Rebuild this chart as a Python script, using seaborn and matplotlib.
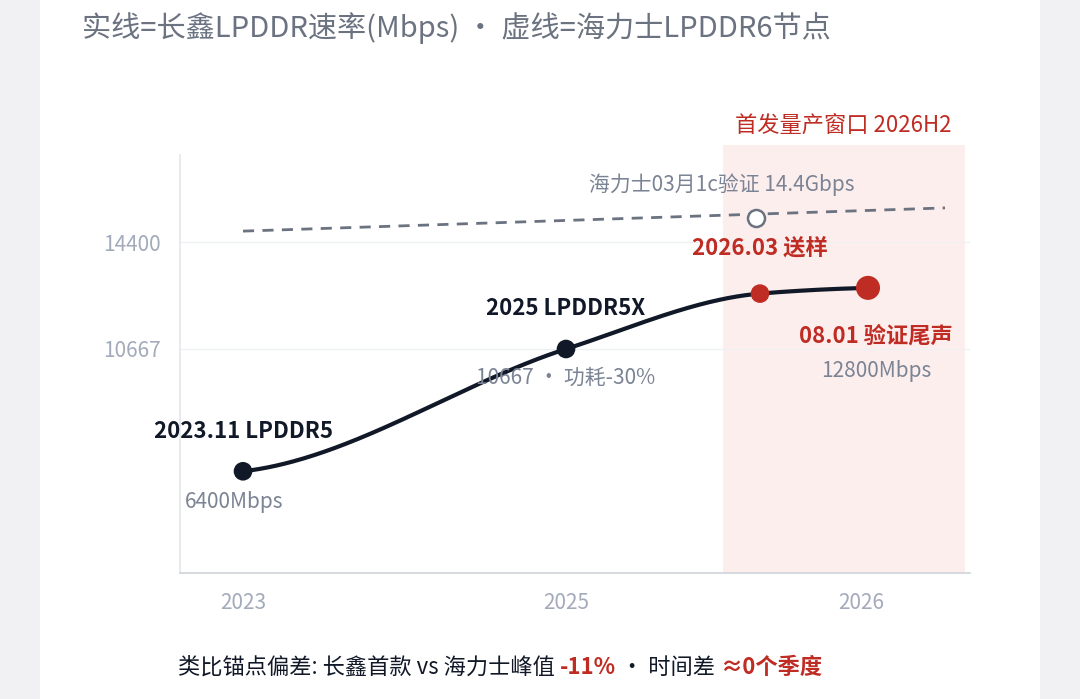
import numpy as np
import matplotlib
matplotlib.use("Agg")
import matplotlib.pyplot as plt
import seaborn as sns
import pandas as pd

# ---- data ----
tick_pos = [0.0, 3.23, 6.18]
tick_labels = ["2023", "2025", "2026"]
cx_t = [0.0, 3.23, 5.17, 6.25]           # CXMT milestones (time index)
cx_v = [6400, 10667, 12600, 12800]       # Mbps
cx_col = ["#111827", "#111827", "#bf2c23", "#bf2c23"]
cx_size = [180, 180, 180, 300]
hy_t = [0.0, 7.02]                       # SK hynix LPDDR6 trend
hy_v = [14780, 15590]
hy_pt_t, hy_pt_v = 5.13, 15240
window = (4.8, 7.22)
yticks = [10667, 14400]

sns.set_theme(style="white")
plt.rcParams['font.family'] = ['Noto Sans CJK SC', 'DejaVu Sans']

fig = plt.figure(figsize=(10.8, 6.99), dpi=100, facecolor="#f1f1f3")
card = plt.Rectangle((40/1080, 0), 1000/1080, 1, transform=fig.transFigure,
                     facecolor="white", edgecolor="none", zorder=-10)
fig.patches.append(card)
ax = fig.add_axes([180/1080, 1-573/699, 790/1080, (573-145)/699])
ax.set_facecolor("none")

def pchip(x, y, xs):
    x = np.asarray(x, float); y = np.asarray(y, float)
    h = np.diff(x); d = np.diff(y)/h
    m = np.zeros_like(y)
    for i in range(1, len(x)-1):
        if d[i-1]*d[i] > 0:
            w1 = 2*h[i]+h[i-1]; w2 = h[i]+2*h[i-1]
            m[i] = (w1+w2)/(w1/d[i-1]+w2/d[i])
    m[0] = d[0]*0.3; m[-1] = d[-1]*0.5
    out = []
    for xv in xs:
        i = min(np.searchsorted(x, xv, side="right")-1, len(x)-2)
        t = (xv-x[i])/h[i]
        h00 = 2*t**3-3*t**2+1; h10 = t**3-2*t**2+t; h01 = -2*t**3+3*t**2; h11 = t**3-t**2
        out.append(h00*y[i]+h10*h[i]*m[i]+h01*y[i+1]+h11*h[i]*m[i+1])
    return np.array(out)

xs = np.linspace(cx_t[0], cx_t[-1], 300)
curve = pd.DataFrame({"t": xs, "v": pchip(cx_t, cx_v, xs)})

ax.axvspan(*window, color="#fdeeee", zorder=0, lw=0)
for yt in yticks:
    ax.axhline(yt, color="#eef0f4", lw=1, zorder=0)
sns.lineplot(data=curve, x="t", y="v", ax=ax, color="#111827", lw=3, zorder=3)
sns.lineplot(x=hy_t, y=hy_v, ax=ax, color="#6b7280", lw=2, zorder=2)
ax.lines[-1].set_linestyle((0, (4, 3)))
ax.scatter([hy_pt_t], [hy_pt_v], s=150, facecolor="white", edgecolor="#6b7280", lw=1.8, zorder=4)
ax.scatter(cx_t, cx_v, s=cx_size, c=cx_col, zorder=5, lw=0)

ax.set_xlim(-0.63, 7.27)
ax.set_ylim(2851, 17785)
ax.set_xticks(tick_pos, tick_labels)
ax.set_yticks(yticks, [str(v) for v in yticks])
ax.tick_params(axis="both", colors="#a3abbb", labelsize=15, length=0, pad=14)
ax.set_xlabel(""); ax.set_ylabel("")
for s in ["top", "right"]:
    ax.spines[s].set_visible(False)
ax.spines["left"].set_color("#e5e7eb")
ax.spines["left"].set_bounds(2851, 17436)
ax.spines["bottom"].set_color("#d1d5db")

def lab(t, v, txt, dx, dy, color, bold=False, size=16, ha="center"):
    ax.annotate(txt, (t, v), xytext=(dx, dy), textcoords="offset points",
                ha=ha, va="center", color=color, fontsize=size,
                fontweight="bold" if bold else "normal", zorder=6)

dark, gray, red = "#111827", "#7b8494", "#bf2c23"
lab(cx_t[0], cx_v[0], "2023.11 LPDDR5", 0, 29, dark, True)
lab(cx_t[0], cx_v[0], "6400Mbps", -42, -22, gray, ha="left", size=15)
lab(cx_t[1], cx_v[1], "2025 LPDDR5X", 0, 29, dark, True)
lab(cx_t[1], cx_v[1], "10667 · 功耗-30%", 0, -21, gray, size=15)
lab(cx_t[2], cx_v[2], "2026.03 送样", 0, 33, red, True)
lab(cx_t[3], cx_v[3], "08.01 验证尾声", 6, -35, red, True)
lab(cx_t[3], cx_v[3], "12800Mbps", 6, -60, gray, size=15)
lab(hy_pt_t, hy_pt_v, "海力士03月1c验证 14.4Gbps", -25, 24, gray, size=15)
ax.text(6.0, 17785 + 300, "首发量产窗口 2026H2", color=red, fontsize=16,
        ha="center", va="bottom")

fig.text(82/1080, 1-28/699, "实线=长鑫LPDDR速率(Mbps) · 虚线=海力士LPDDR6节点",
         color="#6b7280", fontsize=21, va="center", ha="left")

parts = [("类比锚点偏差: 长鑫首款 vs 海力士峰值 ", dark, "normal"),
         ("-11%", red, "bold"), (" · 时间差 ", dark, "normal"), ("≈0个季度", red, "bold")]
prev = fig.text(178/1080, 1-667/699, parts[0][0], color=parts[0][1], fontsize=16,
                fontweight=parts[0][2], va="center", ha="left")
for txt, c, w in parts[1:]:
    prev = ax.annotate(txt, xy=(1, 0), xycoords=prev, va="bottom", ha="left",
                       color=c, fontsize=16, fontweight=w, annotation_clip=False)

fig.savefig("out.png", dpi=100, facecolor=fig.get_facecolor())
